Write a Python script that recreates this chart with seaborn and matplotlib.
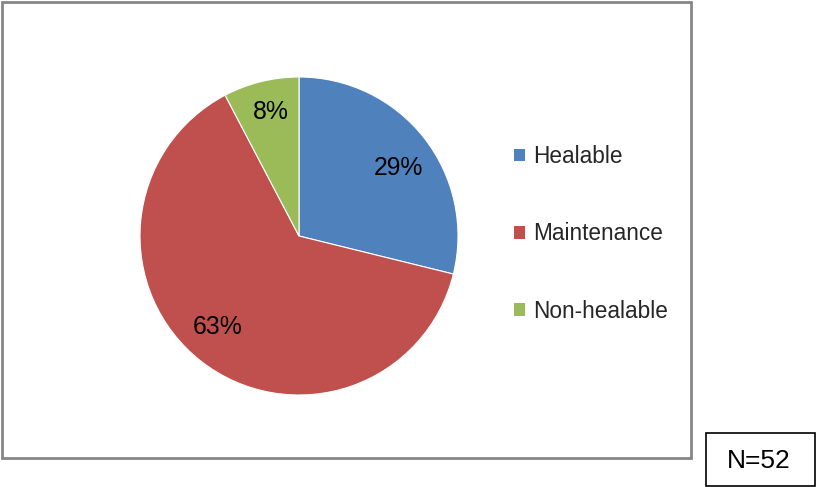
import matplotlib
matplotlib.use("Agg")
import matplotlib.pyplot as plt
import seaborn as sns
import numpy as np
from matplotlib.patches import Rectangle, Patch

categories = ["Healable", "Maintenance", "Non-healable"]
counts = [15, 33, 4]
pct_labels = ["29%", "63%", "8%"]
note = "N=52"

sns.set_theme(style="white")
plt.rcParams['font.family'] = ['Liberation Sans', 'DejaVu Sans']
colors = ["#4F81BD", "#C0504D", "#9BBB59"]

W, H = 817, 487
fig = plt.figure(figsize=(W / 100, H / 100), dpi=100)
ax = fig.add_axes([0, 0, 1, 1])

cx, cy, r = 299, H - 236, 159
wedges, _ = ax.pie(counts, colors=colors, startangle=90, counterclock=False,
                   center=(cx, cy), radius=r, frame=True,
                   wedgeprops=dict(linewidth=0.8, edgecolor="white"))
ax.set_xlim(0, W)
ax.set_ylim(0, H)
ax.set_aspect("equal")
ax.axis("off")

total = sum(counts)
start = 90.0
dists = [0.765, 0.76, 0.81]
angle_adj = [-3.0, -4.5, -1.0]
pct_size = 17.8
half_cap = 0.716 * pct_size * 100 / 72 / 2
for c, lab, d, da in zip(counts, pct_labels, dists, angle_adj):
    span = 360.0 * c / total
    mid = np.deg2rad(start - span / 2 + da)
    start -= span
    ax.text(cx + d * r * np.cos(mid), cy + d * r * np.sin(mid) - half_cap, lab,
            ha="center", va="baseline", fontsize=pct_size, color="black")

# outer frame
ax.add_patch(Rectangle((2, H - 458), 689, 456, fill=False, edgecolor="#868686", linewidth=2))
# N box
ax.add_patch(Rectangle((706.5, 1), 109, 53, fill=False, edgecolor="black", linewidth=1.2))
ax.text(759, H - 461, note, ha="center", va="center", fontsize=19, color="black")

handles = [Patch(facecolor=c, edgecolor="none") for c in colors]
leg = ax.legend(handles, categories, loc="upper left",
                bbox_to_anchor=(514 / W, 1 - 145 / H), frameon=False,
                fontsize=16.3, handlelength=0.5, handleheight=0.5,
                handletextpad=0.35, labelspacing=2.4, borderaxespad=0,
                borderpad=0)

fig.savefig("out.png", dpi=100)
